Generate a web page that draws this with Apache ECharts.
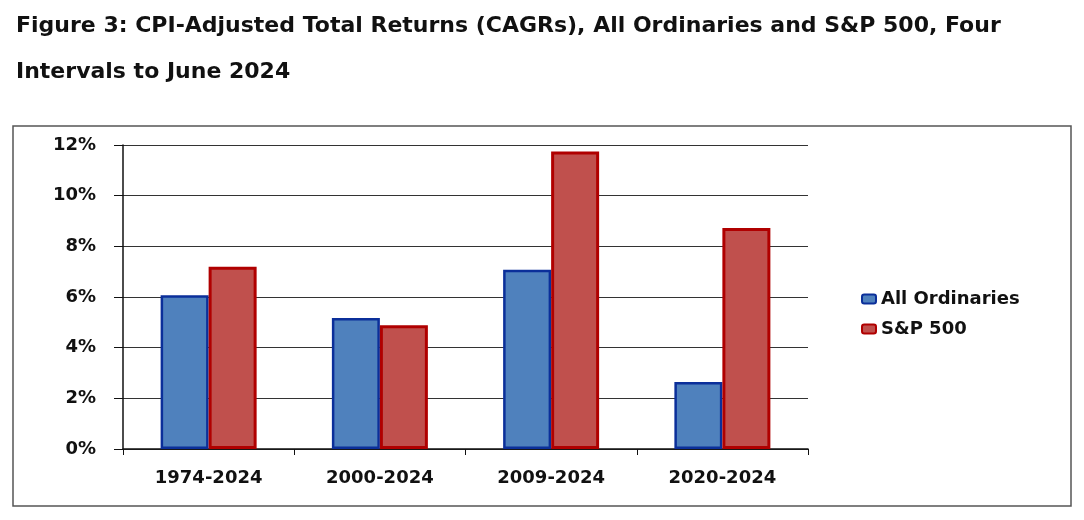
<!DOCTYPE html>
<html lang="en">
  <head>
    <meta charset="UTF-8" />
    <title>Figure 3</title>
    <script src="https://cdn.jsdelivr.net/npm/echarts@6/dist/echarts.min.js"></script>
    <style>
      html, body { margin: 0; padding: 0; background: #fff; }
      #main { width: 1084px; height: 520px; }
    </style>
  </head>
  <body>
    <div id="main"></div>
    <script>
      // data
      var periods = ["1974-2024", "2000-2024", "2009-2024", "2020-2024"];
      var allOrds = [6.07, 5.17, 7.08, 2.64];
      var sp500 = [7.19, 4.88, 11.74, 8.72];
      var yTicks = [0, 2, 4, 6, 8, 10, 12];

      var myChart = echarts.init(document.getElementById("main"));

      var labelFont = {
        fontFamily: "DejaVu Sans",
        fontWeight: "bold",
        fontSize: 18,
        color: "#111",
      };

      var option = {
        animation: false,
        title: {
          text: "Figure 3: CPI-Adjusted Total Returns (CAGRs), All Ordinaries and S&P 500, Four\nIntervals to June 2024",
          left: 11,
          top: -2,
          textStyle: {
            fontFamily: "DejaVu Sans",
            fontWeight: "bold",
            fontSize: 22,
            lineHeight: 46,
            color: "#111",
          },
        },
        graphic: [
          {
            type: "rect",
            shape: { x: 13, y: 126, width: 1058, height: 380 },
            style: { fill: "none", stroke: "#555", lineWidth: 1.5 },
            z: -1,
          },
        ],
        legend: {
          orient: "vertical",
          left: 856,
          top: 285,
          itemWidth: 14,
          itemHeight: 9,
          itemGap: 12,
          data: ["All Ordinaries", "S&P 500"],
          textStyle: labelFont,
        },
        grid: { left: 123, top: 145, width: 685, height: 304 },
        xAxis: {
          type: "category",
          data: periods,
          axisLine: { lineStyle: { color: "#111", width: 1.5 } },
          axisTick: { show: true, length: 6, lineStyle: { color: "#111" } },
          axisLabel: Object.assign({ margin: 20 }, labelFont),
        },
        yAxis: {
          type: "value",
          min: yTicks[0],
          max: yTicks[yTicks.length - 1],
          interval: 2,
          axisLine: { show: true, lineStyle: { color: "#111", width: 1.5 } },
          axisTick: { show: true, length: 9, lineStyle: { color: "#111" } },
          splitLine: { lineStyle: { color: "#333", width: 1.2 } },
          axisLabel: Object.assign({ margin: 27, formatter: "{value}%" }, labelFont),
        },
        series: [
          {
            name: "All Ordinaries",
            type: "bar",
            data: allOrds,
            barWidth: 48,
            barGap: "0%",
            itemStyle: {
              color: "#4F81BD",
              borderColor: "#0B2F9A",
              borderWidth: 2.5,
            },
          },
          {
            name: "S&P 500",
            type: "bar",
            data: sp500,
            barWidth: 48,
            barGap: "0%",
            itemStyle: {
              color: "#C0504D",
              borderColor: "#B00000",
              borderWidth: 3,
            },
          },
        ],
      };

      myChart.setOption(option);
    </script>
  </body>
</html>
